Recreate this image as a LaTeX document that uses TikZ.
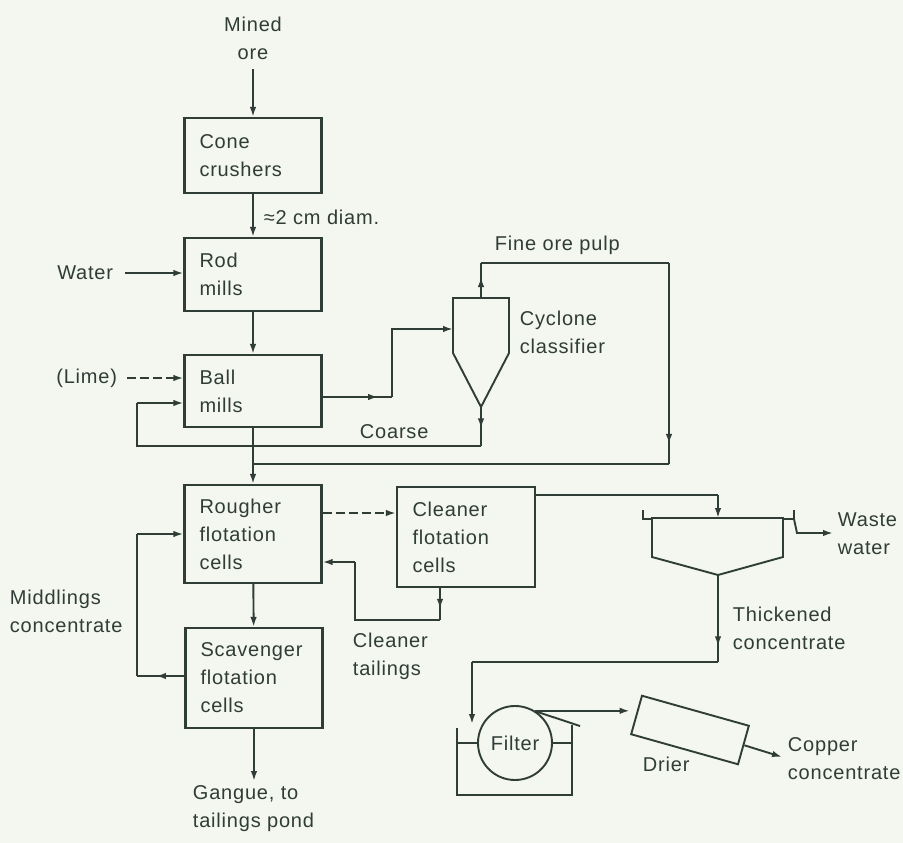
\documentclass[tikz,border=0pt]{standalone}
\usepackage{fontspec}
\setmainfont{Liberation Sans}[LetterSpace=4]
\usetikzlibrary{arrows.meta,decorations.markings,calc}
\definecolor{ink}{HTML}{2F3D36}
\definecolor{paper}{HTML}{F4F6F0}
\tikzset{
  box/.style={draw, line width=2.2pt, minimum width=137pt, text width=107pt, inner xsep=15pt, align=left},
  lbl/.style={align=left, inner sep=1pt},
  tip/.style={-{Latex[length=10pt,width=6.5pt]}},
  dashline/.style={dash pattern=on 9pt off 4pt},
  arrowat/.style={postaction={decorate}, decoration={markings, mark=at position #1 with {\arrow{Latex[length=10pt,width=6.5pt]}}}},
}
\begin{document}
\begin{tikzpicture}[x=1pt,y=-1pt, line width=1.9pt, color=ink,
  every node/.append style={font=\fontsize{20}{28}\selectfont}]
\fill[paper] (0,0) rectangle (903,843);
\useasboundingbox (0,0) rectangle (903,843);

% process boxes
\node[box, minimum height=75pt] (cone) at (253,155.5) {Cone\\crushers};
\node[box, minimum height=73pt] (rod) at (253,274.5) {Rod\\mills};
\node[box, minimum height=72pt] (ball) at (253,391) {Ball\\mills};
\node[box, minimum height=98pt] (rough) at (253,534) {Rougher\\flotation\\cells};
\node[box, minimum height=100pt] (scav) at (254,678) {Scavenger\\flotation\\cells};
\node[box, minimum height=100pt, minimum width=138pt] (clean) at (466,537) {Cleaner\\flotation\\cells};

% labels
\node[lbl, align=center] (mined) at (253,38) {Mined\\ore};
\node[lbl, anchor=west] (diam) at (262,217) {≈2 cm diam.};
\node[lbl, anchor=east] (water) at (115,273) {Water};
\node[lbl, anchor=east] (lime) at (119,378) {(Lime)};
\node[lbl, anchor=west] (fine) at (493,245) {Fine ore pulp};
\node[lbl, anchor=west] (cyclbl) at (518,332) {Cyclone\\classifier};
\node[lbl, anchor=west] (coarse) at (358,432) {Coarse};
\node[lbl, anchor=west] (midd) at (8,611) {Middlings\\concentrate};
\node[lbl, anchor=west] (ctail) at (351,656) {Cleaner\\tailings};
\node[lbl, anchor=north west] (gangue) at (191,784) {Gangue, to\\tailings pond};
\node[lbl, anchor=west] (waste) at (836,534) {Waste\\water};
\node[lbl, anchor=west] (thick) at (731,628) {Thickened\\concentrate};
\node[lbl, anchor=west] (drierlbl) at (641,764) {Drier};
\node[lbl, anchor=west] (copper) at (786,759) {Copper\\concentrate};

% main chain
\draw[tip, shorten <=8pt] (mined) -- (cone);
\draw[tip] (cone) -- (rod);
\draw[tip] (rod) -- (ball);
\draw[tip, shorten <=10pt] (water.east) -- (water.east -| rod.west);
\draw[tip, dashline, shorten <=8pt] (lime.east) -- (lime.east -| ball.west);

% cyclone
\coordinate (cytl) at (453,298);
\coordinate (cytr) at (509,298);
\coordinate (cytop) at (481,298);
\coordinate (cyapex) at (481,407);
\coordinate (cyin) at (453,329);
\draw (cytl) -- (cytr) -- (509,353) -- (cyapex) -- (453,353) -- cycle;

% ball mills -> cyclone
\coordinate (b1) at (392,397);
\draw[arrowat=0.8] (ball.east |- b1) -- (b1);
\draw[tip] (b1) |- (cyin);

% fine ore pulp
\coordinate (f1) at (481,263);
\coordinate (f2) at (669,263);
\coordinate (f3) at (669,464);
\coordinate (j) at (253,464);
\draw[arrowat=0.6] (cytop) -- (f1);
\draw (f1) -- (f2);
\draw[arrowat=0.9] (f2) -- (f3);
\draw (f3) -- (j);

% coarse return
\coordinate (c1) at (481,446);
\coordinate (c2) at (137,446);
\coordinate (c3) at (137,403);
\draw[arrowat=0.55] (cyapex) -- (c1);
\draw (c1) -- (c2) -- (c3);
\draw[tip] (c3) -- (c3 -| ball.west);

% ball -> rougher
\draw[tip] (ball) -- (rough);

% rougher -> cleaner
\coordinate (rc) at (322,513);
\draw[tip, dashline] (rough.east |- rc) -- (clean.west |- rc);

% cleaner -> thickener
\coordinate (t1) at (718,495);
\coordinate (thtop) at (718,518);
\draw (clean.east |- t1) -- (t1);
\draw[tip] (t1) -- (thtop);

% cleaner tailings
\coordinate (ct1) at (440,620);
\coordinate (ct2) at (355,620);
\coordinate (ct3) at (355,562);
\draw[arrowat=0.65] (clean.south -| ct1) -- (ct1);
\draw (ct1) -- (ct2) -- (ct3);
\draw[tip] (ct3) -- (ct3 -| rough.east);

% rougher -> scavenger
\draw[tip] (rough) -- (scav);

% middlings
\coordinate (m1) at (137,676);
\coordinate (m2) at (137,534);
\draw[arrowat=0.6] (scav.west |- m1) -- (m1);
\draw (m1) -- (m2);
\draw[tip] (m2) -- (rough.west);

% gangue
\coordinate (g) at (254,781);
\draw[tip] (scav.south) -- (g);

% thickener
\coordinate (thapex) at (718,575);
\draw (652,518) -- (783,518) -- (783,557) -- (thapex) -- (652,557) -- cycle;
\draw (643,510) -- (643,519) -- (652,519);
\draw (783,519) -- (794,519) -- (794,510);
\coordinate (w1) at (794,519);
\coordinate (w2) at (833,533);
\draw[tip] (w1) -- (797,533) -- (w2);

% thickened concentrate
\coordinate (tc1) at (718,662);
\coordinate (tc2) at (472,662);
\coordinate (tc3) at (472,724);
\draw[arrowat=0.82] (thapex) -- (tc1);
\draw (tc1) -- (tc2);
\draw[tip] (tc2) -- (tc3);

% filter
\node[circle, draw, minimum size=74pt, inner sep=0pt] (filter) at (515,743) {Filter};
\draw (457,728) -- (457,795) -- (572,795) -- (572,725);
\draw (457,743) -- (filter.west);
\draw (filter.east) -- (572,743);
\coordinate (scr) at (580,726);
\draw (filter.56) -- (scr);

% drier
\node[draw, rotate=-15.7, minimum width=111pt, minimum height=40pt, inner sep=0pt] (drier) at (690,730) {};
\draw[tip, shorten >=6pt] (filter.58) -- (filter.58 -| drier.west);
\coordinate (cu) at (782,757);
\draw[tip] (drier.east) -- (cu);
\end{tikzpicture}
\end{document}
